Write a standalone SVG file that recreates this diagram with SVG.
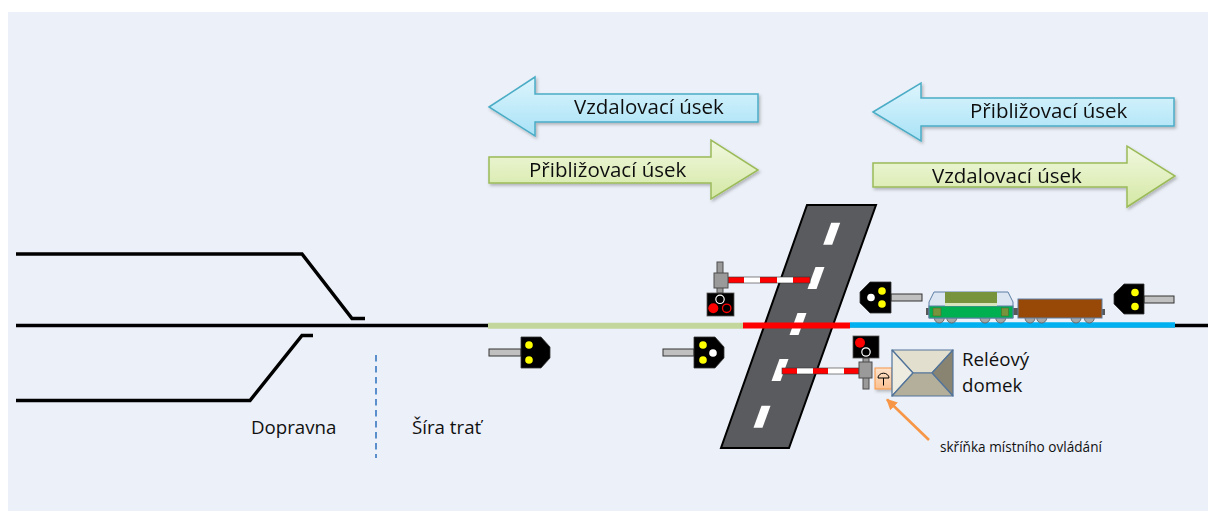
<svg xmlns="http://www.w3.org/2000/svg" width="1208" height="511" viewBox="0 0 1208 511">
  <style>
    .lbl { font-family: "Open Sans", "Noto Sans", sans-serif; fill: #111; }
    .big { font-size: 20.5px; }
    .mid { font-size: 18.7px; }
    .small { font-size: 13.6px; }
    .rail { fill: none; stroke: #000; stroke-width: 3.5; stroke-linecap: butt; }
    .head { fill: #000; stroke: #333; stroke-width: 0.8; }
    .pole { fill: #C0C0C0; stroke: #333; stroke-width: 1; }
    .yel { fill: #FFFF00; }
    .wht { fill: #FFFFFF; }
    .post { fill: #9A9A9A; stroke: #4D4D4D; stroke-width: 1; }
    .box { fill: #000; stroke: #555; stroke-width: 0.8; }
    .red { fill: #FF0000; }
    .armR { fill: #FF0000; }
    .armW { fill: #FFFFFF; }
    .wheel { fill: #A6A6A6; stroke: #595959; stroke-width: 0.8; }
    .buf { fill: #595959; }
    .dash { fill: #FFFFFF; }
  </style>
  <defs>
    <linearGradient id="gBlue" x1="0" y1="0" x2="0" y2="1">
      <stop offset="0" stop-color="#DDF5FD"/>
      <stop offset="1" stop-color="#A8E2F6"/>
    </linearGradient>
    <linearGradient id="gGreen" x1="0" y1="0" x2="0" y2="1">
      <stop offset="0" stop-color="#F1F8DF"/>
      <stop offset="1" stop-color="#D4E8A4"/>
    </linearGradient>
    <linearGradient id="gOrange" x1="0" y1="0" x2="0" y2="1">
      <stop offset="0" stop-color="#FDE3CC"/>
      <stop offset="1" stop-color="#FAC090"/>
    </linearGradient>
    <filter id="soft" x="-10%" y="-20%" width="125%" height="150%">
      <feDropShadow dx="1.5" dy="2" stdDeviation="1.5" flood-color="#000" flood-opacity="0.25"/>
    </filter>
    <marker id="orangeHead" viewBox="0 0 10 10" refX="9" refY="5" markerWidth="4.2" markerHeight="4.2" orient="auto-start-reverse" markerUnits="strokeWidth">
      <path d="M0,0 L10,5 L0,10 Z" fill="#F79646"/>
    </marker>
  </defs>

  <!-- page background -->
  <rect x="0" y="0" width="1208" height="511" fill="#FFFFFF"/>
  <rect x="8" y="12" width="1200" height="499" fill="#ECF0F8"/>

  <!-- section arrows -->
  <g id="arrow-vzdalovaci-left" filter="url(#soft)">
    <path d="M489,107 L535,77 V94 H758 V122 H535 V136 Z" fill="url(#gBlue)" stroke="#4BACC6" stroke-width="1.5" stroke-linejoin="miter"/>
    <text class="lbl big" x="574" y="114">Vzdalovací úsek</text>
  </g>
  <g id="arrow-priblizovaci-left" filter="url(#soft)">
    <path d="M489,157 H711 V140 L758,170 L711,199 V183 H489 Z" fill="url(#gGreen)" stroke="#9BBB59" stroke-width="1.5"/>
    <text class="lbl big" x="529" y="177">Přibližovací úsek</text>
  </g>
  <g id="arrow-priblizovaci-right" filter="url(#soft)">
    <path d="M873,112 L921,83 V98 H1174 V126 H921 V141 Z" fill="url(#gBlue)" stroke="#4BACC6" stroke-width="1.5"/>
    <text class="lbl big" x="970" y="118">Přibližovací úsek</text>
  </g>
  <g id="arrow-vzdalovaci-right" filter="url(#soft)">
    <path d="M873,163 H1127 V146 L1175,176 L1127,207 V187 H873 Z" fill="url(#gGreen)" stroke="#9BBB59" stroke-width="1.5"/>
    <text class="lbl big" x="932" y="183">Vzdalovací úsek</text>
  </g>

  <!-- station tracks and main line -->
  <g id="tracks">
    <path class="rail" d="M16,254 H302 L352,318.5 H365"/>
    <path class="rail" d="M16,400.5 H250 L302,335.5 H313"/>
    <path class="rail" d="M16,325.5 H1208"/>
  </g>

  <!-- station / open line boundary -->
  <g id="boundary">
    <line x1="376" y1="355" x2="376" y2="458" stroke="#5B8FCB" stroke-width="2" stroke-dasharray="6.5 4.5"/>
    <text class="lbl mid" x="251" y="434">Dopravna</text>
    <text class="lbl mid" x="412" y="434">Šíra trať</text>
  </g>

  <!-- road crossing -->
  <g id="road">
    <polygon points="807,205 876,205 789,448 721,448" fill="#5A5B5F" stroke="#000" stroke-width="2" stroke-linejoin="miter"/>
    <polygon class="dash" points="831.2,222.7 840.2,222.7 832.2,244.7 823.2,244.7"/>
    <polygon class="dash" points="815.5,267 824.5,267 816.5,289 807.5,289"/>
    <polygon class="dash" points="797.5,313 806.5,313 798.5,335 789.5,335"/>
    <polygon class="dash" points="779.5,359 788.5,359 780.5,381 771.5,381"/>
    <polygon class="dash" points="761.5,405.7 770.5,405.7 762.5,427.7 753.5,427.7"/>
  </g>

  <!-- track circuit sections -->
  <g id="sections">
    <line x1="488" y1="325.8" x2="743" y2="325.8" stroke="#C3D69B" stroke-width="6"/>
    <line x1="743" y1="325.5" x2="850" y2="325.5" stroke="#FF0000" stroke-width="6"/>
    <line x1="850" y1="325" x2="1175" y2="325" stroke="#00B0F0" stroke-width="5.5"/>
  </g>

  <!-- dwarf signals -->
  <g id="signal-1">
    <rect class="pole" x="489" y="349" width="32" height="7"/>
    <path class="head" d="M521,337 H541 L550,347 V358 L541,368 H521 Z"/>
    <circle class="yel" cx="529" cy="345" r="3.8"/>
    <circle class="yel" cx="529" cy="360" r="3.8"/>
  </g>
  <g id="signal-2">
    <rect class="pole" x="663" y="349" width="31" height="7"/>
    <path class="head" d="M694,337 H715 L724,347 V358 L715,368 H694 Z"/>
    <circle class="yel" cx="703" cy="345" r="3.8"/>
    <circle class="yel" cx="703" cy="360" r="3.8"/>
    <circle class="wht" cx="713" cy="353" r="3.8"/>
  </g>
  <g id="signal-3">
    <rect class="pole" x="891" y="294" width="31" height="7"/>
    <path class="head" d="M891,282 H870 L860,292 V303 L870,313 H891 Z"/>
    <circle class="yel" cx="882" cy="291" r="3.8"/>
    <circle class="yel" cx="882" cy="304" r="3.8"/>
    <circle class="wht" cx="871" cy="297.5" r="3.8"/>
  </g>
  <g id="signal-4">
    <rect class="pole" x="1144" y="296" width="30" height="7"/>
    <path class="head" d="M1144,284 H1124 L1114,294 V304 L1124,314 H1144 Z"/>
    <circle class="yel" cx="1135" cy="292.5" r="3.8"/>
    <circle class="yel" cx="1135" cy="306.5" r="3.8"/>
  </g>

  <!-- crossing barrier with light signal, upper left -->
  <g id="barrier-1">
    <rect class="post" x="717" y="262" width="6" height="31"/>
    <rect class="armR" x="728" y="277" width="16" height="6"/>
    <rect class="armW" x="744" y="277" width="16" height="6"/>
    <rect class="armR" x="760" y="277" width="17" height="6"/>
    <rect class="armW" x="777" y="277" width="16" height="6"/>
    <rect class="armR" x="793" y="277" width="17" height="6"/>
    <rect x="728" y="277" width="82" height="6" fill="none" stroke="#333" stroke-width="0.6"/>
    <rect class="post" x="714" y="273" width="14" height="15"/>
    <rect class="box" x="707" y="293" width="27" height="23"/>
    <circle cx="720" cy="299.3" r="4.2" fill="none" stroke="#FFF" stroke-width="1.2"/>
    <circle class="red" cx="713.3" cy="308.3" r="5"/>
    <circle cx="726.7" cy="308.3" r="4.2" fill="none" stroke="#FF0000" stroke-width="1.3"/>
  </g>

  <!-- crossing barrier with light signal, lower right -->
  <g id="barrier-2">
    <rect class="post" x="863" y="358" width="6" height="31"/>
    <rect class="armR" x="782" y="368" width="15" height="6"/>
    <rect class="armW" x="797" y="368" width="16" height="6"/>
    <rect class="armR" x="813" y="368" width="15" height="6"/>
    <rect class="armW" x="828" y="368" width="16" height="6"/>
    <rect class="armR" x="844" y="368" width="15" height="6"/>
    <rect x="782" y="368" width="77" height="6" fill="none" stroke="#333" stroke-width="0.6"/>
    <rect class="post" x="859" y="362" width="13" height="16"/>
    <rect class="box" x="853" y="336" width="26" height="22"/>
    <circle class="red" cx="860" cy="342.8" r="5"/>
    <circle cx="866" cy="352" r="4.2" fill="none" stroke="#FFF" stroke-width="1.2"/>
  </g>

  <!-- local control cabinet -->
  <g id="cabinet">
    <rect x="875" y="368" width="17" height="21" fill="url(#gOrange)" stroke="#F79646" stroke-width="1" filter="url(#soft)"/>
    <path d="M878,378 A5.5,4.8 0 0 1 889,378 Z" fill="none" stroke="#000" stroke-width="1"/>
    <line x1="883.5" y1="378" x2="883.5" y2="385.5" stroke="#000" stroke-width="1"/>
  </g>

  <!-- relay house -->
  <g id="relay-house" stroke="#52749A" stroke-width="1.2" stroke-linejoin="round">
    <polygon points="892,350 953,350 932,373 913,373" fill="#E2DFCE"/>
    <polygon points="892,350 913,373 892,396" fill="#EEECE1"/>
    <polygon points="953,350 953,396 932,373" fill="#898472"/>
    <polygon points="892,396 913,373 932,373 953,396" fill="#B3AF9A"/>
    <text class="lbl mid" x="962" y="365.5" stroke="none">Reléový</text>
    <text class="lbl mid" x="962" y="391.5" stroke="none">domek</text>
  </g>

  <!-- train: locomotive and freight wagon -->
  <g id="train">
    <circle class="wheel" cx="939.3" cy="318" r="5"/>
    <circle class="wheel" cx="951.7" cy="318" r="5"/>
    <circle class="wheel" cx="985" cy="318" r="5"/>
    <circle class="wheel" cx="1000.7" cy="318" r="5"/>
    <circle class="wheel" cx="1030" cy="318" r="5"/>
    <circle class="wheel" cx="1041.7" cy="318" r="5"/>
    <circle class="wheel" cx="1076" cy="318" r="5"/>
    <circle class="wheel" cx="1089.3" cy="318" r="5"/>
    <rect class="buf" x="926" y="308" width="3" height="7"/>
    <rect class="buf" x="1013" y="308" width="5" height="7"/>
    <rect class="buf" x="1102" y="309" width="3" height="6"/>
    <path d="M929,318 V302 L934,292 H1008 L1013,302 V318 Z" fill="#DCE6F2" stroke="#5D7FA5" stroke-width="1"/>
    <rect x="929" y="306" width="84" height="12" fill="#00B050" stroke="#5D7FA5" stroke-width="1"/>
    <rect x="945" y="292" width="52" height="11" fill="#77933C"/>
    <rect x="945" y="303" width="52" height="3" fill="#D7E4BD"/>
    <rect x="933" y="308" width="8" height="8" fill="#77933C" stroke="#4F6228" stroke-width="0.5"/>
    <rect x="1001.5" y="308" width="7" height="8" fill="#77933C" stroke="#4F6228" stroke-width="0.5"/>
    <rect x="1018" y="299" width="84" height="19" fill="#984807" stroke="#5D7FA5" stroke-width="1"/>
  </g>

  <!-- pointer to the local control cabinet -->
  <g id="connectors">
    <line x1="929" y1="440" x2="887" y2="399.5" stroke="#F79646" stroke-width="2.6" marker-end="url(#orangeHead)"/>
  </g>
  <g id="cabinet-label">
    <text class="lbl small" x="940" y="451.5">skříňka místního ovládání</text>
  </g>
</svg>
